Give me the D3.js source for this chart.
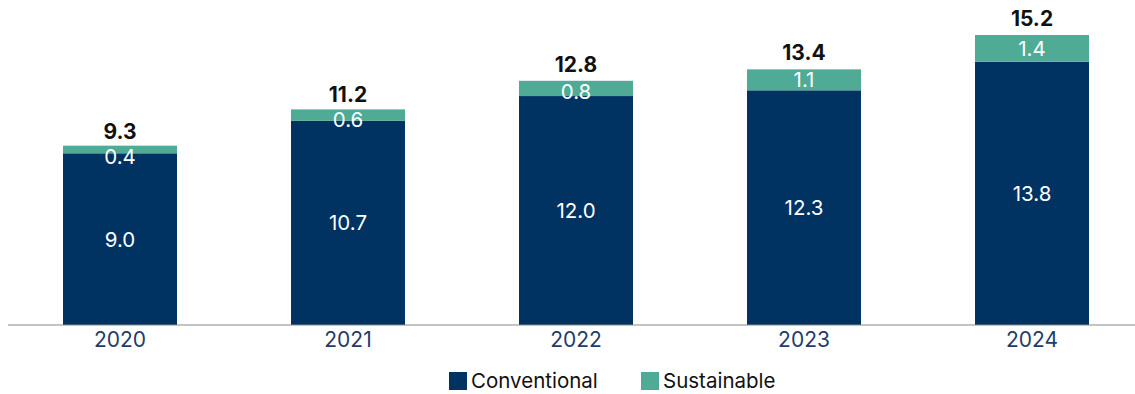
<!DOCTYPE html>
<html>
<head>
<meta charset="utf-8">
<script src="https://cdn.jsdelivr.net/npm/d3@7"></script>
<style>
  body { margin: 0; background: #fff; }
  svg { display: block; font-family: Inter, "Liberation Sans", sans-serif; }
</style>
</head>
<body>
<svg id="chart"></svg>
<script>
var years = ['2020', '2021', '2022', '2023', '2024'];
var conventional = [9.0, 10.7, 12.0, 12.3, 13.8];
var sustainable = [0.4, 0.6, 0.8, 1.1, 1.4];
var totals = [9.3, 11.2, 12.8, 13.4, 15.2];
var seriesNames = ['Conventional', 'Sustainable'];
var colors = ['#003262', '#4fab96'];

var width = 1135, height = 394;
var svg = d3.select('#chart').attr('width', width).attr('height', height);

var x = d3.scaleBand().domain(years).range([6, 1146]).paddingInner(0.5).paddingOuter(0.25);
var y = d3.scaleLinear().domain([0, 15.2]).range([325, 35]);

var rows = years.map(function(yr, i) {
  return { year: yr, Conventional: conventional[i], Sustainable: sustainable[i], total: totals[i] };
});
var stacked = d3.stack().keys(seriesNames)(rows);

var layers = svg.selectAll('g.layer').data(stacked).enter().append('g')
  .attr('class', 'layer')
  .attr('fill', function(d, i) { return colors[i]; });

layers.selectAll('rect').data(function(d) { return d; }).enter().append('rect')
  .attr('x', function(d) { return x(d.data.year); })
  .attr('width', x.bandwidth())
  .attr('y', function(d) { return y(d[1]); })
  .attr('height', function(d) { return y(d[0]) - y(d[1]); });

// segment labels (small sustainable segments push the label down a bit)
layers.each(function(layer, li) {
  d3.select(this).selectAll('text').data(layer).enter().append('text')
    .attr('x', function(d) { return x(d.data.year) + x.bandwidth() / 2; })
    .attr('y', function(d) {
      var mid = (y(d[0]) + y(d[1])) / 2;
      return li === 1 ? Math.max(mid, y(d[1]) + 10.5) : mid;
    })
    .attr('dy', '0.36em')
    .attr('text-anchor', 'middle')
    .attr('fill', '#fff')
    .attr('font-size', 20.5)
    .text(function(d) { return d3.format('.1f')(d.data[layer.key]); });
});

// totals
svg.selectAll('text.total').data(rows).enter().append('text')
  .attr('class', 'total')
  .attr('x', function(d) { return x(d.year) + x.bandwidth() / 2; })
  .attr('y', function(d) { return y(d.total) - 9; })
  .attr('text-anchor', 'middle')
  .attr('font-size', 21)
  .attr('font-weight', 'bold')
  .attr('fill', '#111')
  .text(function(d) { return d3.format('.1f')(d.total); });

// axis
var axis = svg.append('g').attr('transform', 'translate(0,' + y(0) + ')')
  .call(d3.axisBottom(x).tickSize(0).tickPadding(7));
axis.select('.domain').attr('d', 'M8,0H1135').attr('stroke', '#8a8a8a').attr('stroke-width', 1.2);
axis.selectAll('text').attr('font-size', 21).attr('fill', '#1f3c6b').attr('font-family', 'Inter, "Liberation Sans", sans-serif');

// legend
var legendX = [449, 641];
var legend = svg.selectAll('g.legend').data(seriesNames).enter().append('g')
  .attr('class', 'legend')
  .attr('transform', function(d, i) { return 'translate(' + legendX[i] + ',372)'; });
legend.append('rect').attr('width', 18).attr('height', 18)
  .attr('fill', function(d, i) { return colors[i]; });
legend.append('text').attr('x', 22).attr('y', 9).attr('dy', '0.36em')
  .attr('font-size', 20.5).attr('fill', '#111')
  .text(function(d) { return d; });
</script>
</body>
</html>
